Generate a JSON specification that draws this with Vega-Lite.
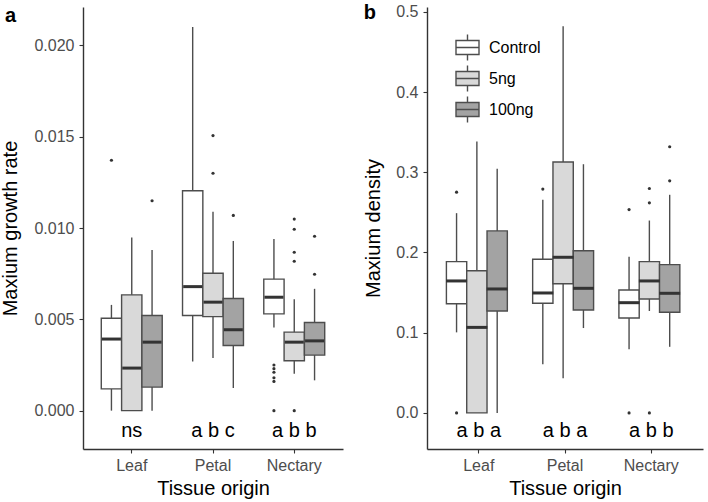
{
  "$schema": "https://vega.github.io/schema/vega-lite/v6.json",
  "padding": {"left": 0, "top": 2, "right": 5, "bottom": 2},
  "config": {
    "view": {"stroke": null},
    "font": "Liberation Sans",
    "axis": {
      "grid": false,
      "domainColor": "#333333",
      "domainWidth": 1.4,
      "tickColor": "#333333",
      "tickWidth": 1.1,
      "tickSize": 4,
      "labelColor": "#4d4d4d",
      "labelFontSize": 16,
      "labelFont": "Liberation Sans",
      "titleFont": "Liberation Sans",
      "titleFontSize": 20,
      "titleFontWeight": "normal",
      "titleColor": "#000000"
    },
    "legend": {"labelFont": "Liberation Sans"}
  },
  "datasets": {
    "boxA": [
      {"tissue": "Leaf", "treatment": "Control", "lower": 0.0, "q1": 0.00119, "median": 0.00392, "q3": 0.00506, "upper": 0.00579},
      {"tissue": "Leaf", "treatment": "5ng", "lower": 0.0, "q1": 0.0, "median": 0.00233, "q3": 0.00634, "upper": 0.00948},
      {"tissue": "Leaf", "treatment": "100ng", "lower": 0.0, "q1": 0.00129, "median": 0.00375, "q3": 0.00521, "upper": 0.0088},
      {"tissue": "Petal", "treatment": "Control", "lower": 0.00269, "q1": 0.00521, "median": 0.00679, "q3": 0.01204, "upper": 0.0210},
      {"tissue": "Petal", "treatment": "5ng", "lower": 0.00288, "q1": 0.00515, "median": 0.00594, "q3": 0.00752, "upper": 0.01089},
      {"tissue": "Petal", "treatment": "100ng", "lower": 0.00124, "q1": 0.00357, "median": 0.00443, "q3": 0.00614, "upper": 0.00929},
      {"tissue": "Nectary", "treatment": "Control", "lower": 0.00455, "q1": 0.0053, "median": 0.00621, "q3": 0.0072, "upper": 0.0094},
      {"tissue": "Nectary", "treatment": "5ng", "lower": 0.00202, "q1": 0.00273, "median": 0.00375, "q3": 0.0043, "upper": 0.0061},
      {"tissue": "Nectary", "treatment": "100ng", "lower": 0.00166, "q1": 0.00304, "median": 0.00382, "q3": 0.00483, "upper": 0.00667}
    ],
    "outA": [
      {"tissue": "Leaf", "treatment": "Control", "value": 0.01371},
      {"tissue": "Leaf", "treatment": "100ng", "value": 0.01149},
      {"tissue": "Petal", "treatment": "5ng", "value": 0.01506},
      {"tissue": "Petal", "treatment": "5ng", "value": 0.0130},
      {"tissue": "Petal", "treatment": "100ng", "value": 0.01069},
      {"tissue": "Nectary", "treatment": "Control", "value": 0.0025},
      {"tissue": "Nectary", "treatment": "Control", "value": 0.0023},
      {"tissue": "Nectary", "treatment": "Control", "value": 0.0021},
      {"tissue": "Nectary", "treatment": "Control", "value": 0.0018},
      {"tissue": "Nectary", "treatment": "Control", "value": 0.0016},
      {"tissue": "Nectary", "treatment": "Control", "value": 0.0},
      {"tissue": "Nectary", "treatment": "5ng", "value": 0.01049},
      {"tissue": "Nectary", "treatment": "5ng", "value": 0.00993},
      {"tissue": "Nectary", "treatment": "5ng", "value": 0.00867},
      {"tissue": "Nectary", "treatment": "5ng", "value": 0.00818},
      {"tissue": "Nectary", "treatment": "5ng", "value": 0.0},
      {"tissue": "Nectary", "treatment": "100ng", "value": 0.00955},
      {"tissue": "Nectary", "treatment": "100ng", "value": 0.00747}
    ],
    "labA": [
      {"tissue": "Leaf", "letters": "ns"},
      {"tissue": "Petal", "letters": "a b c"},
      {"tissue": "Nectary", "letters": "a b b"}
    ],
    "boxB": [
      {"tissue": "Leaf", "treatment": "Control", "lower": 0.1004, "q1": 0.1361, "median": 0.1645, "q3": 0.1886, "upper": 0.249},
      {"tissue": "Leaf", "treatment": "5ng", "lower": 0.0, "q1": 0.0, "median": 0.1066, "q3": 0.1773, "upper": 0.3384},
      {"tissue": "Leaf", "treatment": "100ng", "lower": 0.0, "q1": 0.127, "median": 0.1545, "q3": 0.2269, "upper": 0.3043},
      {"tissue": "Petal", "treatment": "Control", "lower": 0.0608, "q1": 0.1366, "median": 0.1495, "q3": 0.1916, "upper": 0.2656},
      {"tissue": "Petal", "treatment": "5ng", "lower": 0.0433, "q1": 0.161, "median": 0.194, "q3": 0.3127, "upper": 0.482},
      {"tissue": "Petal", "treatment": "100ng", "lower": 0.1058, "q1": 0.1282, "median": 0.1553, "q3": 0.2022, "upper": 0.310},
      {"tissue": "Nectary", "treatment": "Control", "lower": 0.0792, "q1": 0.1183, "median": 0.1374, "q3": 0.1532, "upper": 0.1948},
      {"tissue": "Nectary", "treatment": "5ng", "lower": 0.127, "q1": 0.142, "median": 0.1645, "q3": 0.1886, "upper": 0.2398},
      {"tissue": "Nectary", "treatment": "100ng", "lower": 0.0824, "q1": 0.1254, "median": 0.1491, "q3": 0.1848, "upper": 0.2719}
    ],
    "outB": [
      {"tissue": "Leaf", "treatment": "Control", "value": 0.2752},
      {"tissue": "Leaf", "treatment": "Control", "value": 0.0},
      {"tissue": "Petal", "treatment": "Control", "value": 0.279},
      {"tissue": "Nectary", "treatment": "Control", "value": 0.2535},
      {"tissue": "Nectary", "treatment": "Control", "value": 0.0},
      {"tissue": "Nectary", "treatment": "5ng", "value": 0.2797},
      {"tissue": "Nectary", "treatment": "5ng", "value": 0.2619},
      {"tissue": "Nectary", "treatment": "5ng", "value": 0.0},
      {"tissue": "Nectary", "treatment": "100ng", "value": 0.3318},
      {"tissue": "Nectary", "treatment": "100ng", "value": 0.2893}
    ],
    "labB": [
      {"tissue": "Leaf", "letters": "a b a"},
      {"tissue": "Petal", "letters": "a b a"},
      {"tissue": "Nectary", "letters": "a b b"}
    ]
  },
  "spacing": 84,
  "bounds": "flush",
  "resolve": {"scale": {"fill": "independent"}, "legend": {"fill": "independent"}},
  "hconcat": [
    {
      "width": 260,
      "height": 442,
      "title": {"text": "a", "anchor": "start", "frame": "bounds", "fontSize": 20, "fontWeight": "bold", "font": "Liberation Sans", "color": "#000000", "baseline": "alphabetic", "offset": -35, "dx": 4},
      "encoding": {
        "x": {"field": "tissue", "type": "nominal", "sort": ["Leaf", "Petal", "Nectary"], "scale": {"paddingInner": 0.25, "paddingOuter": 0.225}, "axis": {"title": "Tissue origin", "labelAngle": 0, "labelPadding": 4, "titlePadding": 5}}
      },
      "layer": [
        {
          "data": {"name": "boxA"},
          "mark": {"type": "rule", "color": "#4d4d4d", "strokeWidth": 1.4},
          "encoding": {
            "xOffset": {"field": "treatment", "type": "nominal", "sort": ["Control", "5ng", "100ng"], "scale": {"paddingInner": 0, "paddingOuter": 0}},
            "y": {"field": "lower", "type": "quantitative", "scale": {"domain": [-0.0021, 0.0221], "nice": false, "zero": false}, "axis": {"title": "Maxium growth rate", "values": [0, 0.005, 0.01, 0.015, 0.02], "format": ".3f", "labelPadding": 5, "titlePadding": 13}},
            "y2": {"field": "upper"}
          }
        },
        {
          "data": {"name": "boxA"},
          "mark": {"type": "bar", "stroke": "#4d4d4d", "strokeWidth": 1.4},
          "encoding": {
            "xOffset": {"field": "treatment", "type": "nominal", "sort": ["Control", "5ng", "100ng"]},
            "y": {"field": "q1", "type": "quantitative"},
            "y2": {"field": "q3"},
            "fill": {"field": "treatment", "type": "nominal", "sort": ["Control", "5ng", "100ng"], "scale": {"domain": ["Control", "5ng", "100ng"], "range": ["#ffffff", "#d9d9d9", "#a3a3a3"]}, "legend": null}
          }
        },
        {
          "data": {"name": "boxA"},
          "mark": {"type": "tick", "color": "#333333", "thickness": 3, "size": 19, "opacity": 1},
          "encoding": {
            "xOffset": {"field": "treatment", "type": "nominal", "sort": ["Control", "5ng", "100ng"]},
            "y": {"field": "median", "type": "quantitative"}
          }
        },
        {
          "data": {"name": "outA"},
          "mark": {"type": "circle", "color": "#333333", "size": 10, "opacity": 1},
          "encoding": {
            "xOffset": {"field": "treatment", "type": "nominal", "sort": ["Control", "5ng", "100ng"]},
            "y": {"field": "value", "type": "quantitative"}
          }
        },
        {
          "data": {"name": "labA"},
          "mark": {"type": "text", "fontSize": 20, "color": "#000000", "baseline": "alphabetic", "font": "Liberation Sans"},
          "encoding": {
            "y": {"datum": -0.00142},
            "text": {"field": "letters"}
          }
        }
      ]
    },
    {
      "width": 276,
      "height": 442,
      "title": {"text": "b", "anchor": "start", "frame": "bounds", "fontSize": 20, "fontWeight": "bold", "font": "Liberation Sans", "color": "#000000", "baseline": "alphabetic", "offset": -35},
      "encoding": {
        "x": {"field": "tissue", "type": "nominal", "sort": ["Leaf", "Petal", "Nectary"], "scale": {"paddingInner": 0.25, "paddingOuter": 0.225}, "axis": {"title": "Tissue origin", "labelAngle": 0, "labelPadding": 4, "titlePadding": 5}}
      },
      "layer": [
        {
          "data": {"name": "boxB"},
          "mark": {"type": "rule", "color": "#4d4d4d", "strokeWidth": 1.4},
          "encoding": {
            "xOffset": {"field": "treatment", "type": "nominal", "sort": ["Control", "5ng", "100ng"], "scale": {"paddingInner": 0, "paddingOuter": 0}},
            "y": {"field": "lower", "type": "quantitative", "scale": {"domain": [-0.045, 0.506], "nice": false, "zero": false}, "axis": {"title": "Maxium density", "values": [0, 0.1, 0.2, 0.3, 0.4, 0.5], "format": ".1f", "labelPadding": 5, "titlePadding": 12}},
            "y2": {"field": "upper"}
          }
        },
        {
          "data": {"name": "boxB"},
          "mark": {"type": "bar", "stroke": "#4d4d4d", "strokeWidth": 1.4},
          "encoding": {
            "xOffset": {"field": "treatment", "type": "nominal", "sort": ["Control", "5ng", "100ng"]},
            "y": {"field": "q1", "type": "quantitative"},
            "y2": {"field": "q3"},
            "fill": {"field": "treatment", "type": "nominal", "sort": ["Control", "5ng", "100ng"], "scale": {"domain": ["Control", "5ng", "100ng"], "range": ["#ffffff", "#d9d9d9", "#a3a3a3"]},
              "legend": {"title": null, "orient": "none", "legendX": 28, "legendY": 28, "symbolType": "M-1,-0.61H1V0.61H-1Z M-1,0H1 M0,-0.61V-1.13 M0,0.61V1.13", "symbolSize": 529, "symbolStrokeColor": "#4d4d4d", "symbolStrokeWidth": 1.4, "symbolOpacity": 1, "labelFontSize": 16, "labelColor": "#000000", "labelOffset": 9, "rowPadding": -2}}
          }
        },
        {
          "data": {"name": "boxB"},
          "mark": {"type": "tick", "color": "#333333", "thickness": 3, "size": 21, "opacity": 1},
          "encoding": {
            "xOffset": {"field": "treatment", "type": "nominal", "sort": ["Control", "5ng", "100ng"]},
            "y": {"field": "median", "type": "quantitative"}
          }
        },
        {
          "data": {"name": "outB"},
          "mark": {"type": "circle", "color": "#333333", "size": 10, "opacity": 1},
          "encoding": {
            "xOffset": {"field": "treatment", "type": "nominal", "sort": ["Control", "5ng", "100ng"]},
            "y": {"field": "value", "type": "quantitative"}
          }
        },
        {
          "data": {"name": "labB"},
          "mark": {"type": "text", "fontSize": 20, "color": "#000000", "baseline": "alphabetic", "font": "Liberation Sans"},
          "encoding": {
            "y": {"datum": -0.030},
            "text": {"field": "letters"}
          }
        }
      ]
    }
  ]
}
